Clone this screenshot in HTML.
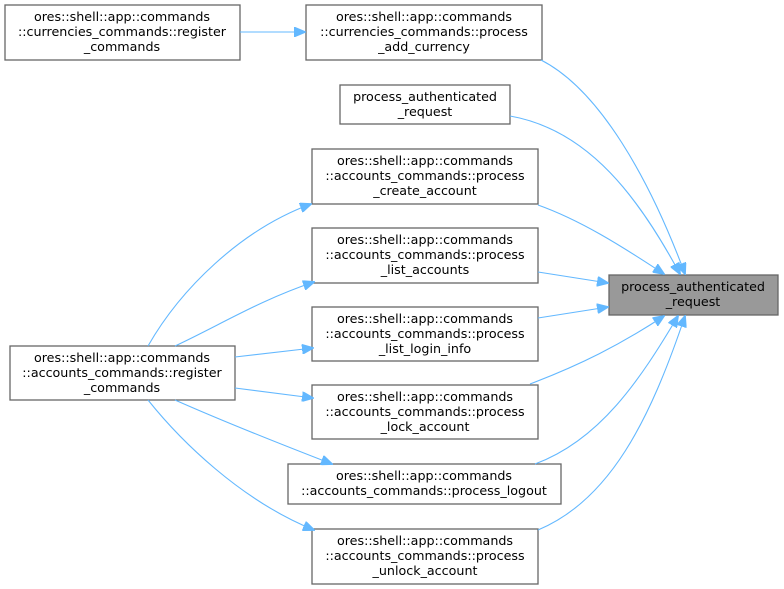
<!DOCTYPE html>
<html><head><meta charset="utf-8"><style>
html,body{margin:0;padding:0;background:#fff;}
svg{display:block;}
text{font-family:"DejaVu Sans","Liberation Sans",sans-serif;font-size:12.7px;fill:#000;}
.n{fill:#fff;stroke:#666;stroke-width:1.3;}
.e{fill:none;stroke:#63b8ff;stroke-width:1.1;}
</style></head><body>
<svg width="784" height="589" viewBox="0 0 784 589" xmlns="http://www.w3.org/2000/svg">
<defs><marker id="a" markerWidth="12" markerHeight="10" refX="11" refY="5" orient="auto" markerUnits="userSpaceOnUse"><path d="M0,0 L12,5 L0,10 z" fill="#63b8ff" stroke="#63b8ff"/></marker></defs>
<g text-anchor="middle">
<rect class="n" x="5" y="5" width="235" height="55"/>
<text x="122" y="21">ores::shell::app::commands</text><text x="122" y="36">::currencies_commands::register</text><text x="122" y="51">_commands</text>
<rect class="n" x="306" y="5" width="236" height="55"/>
<text x="424" y="21">ores::shell::app::commands</text><text x="424" y="36">::currencies_commands::process</text><text x="424" y="51">_add_currency</text>
<rect class="n" x="340" y="85" width="170" height="39"/>
<text x="425" y="101">process_authenticated</text><text x="425" y="116">_request</text>
<rect class="n" x="312" y="149" width="226" height="55"/>
<text x="425" y="165">ores::shell::app::commands</text><text x="425" y="180">::accounts_commands::process</text><text x="425" y="195">_create_account</text>
<rect class="n" x="312" y="228" width="226" height="55"/>
<text x="425" y="244">ores::shell::app::commands</text><text x="425" y="259">::accounts_commands::process</text><text x="425" y="274">_list_accounts</text>
<rect class="n" x="312" y="307" width="226" height="54"/>
<text x="425" y="323">ores::shell::app::commands</text><text x="425" y="338">::accounts_commands::process</text><text x="425" y="353">_list_login_info</text>
<rect class="n" x="312" y="385" width="226" height="54"/>
<text x="425" y="401">ores::shell::app::commands</text><text x="425" y="416">::accounts_commands::process</text><text x="425" y="431">_lock_account</text>
<rect class="n" x="288" y="464" width="273" height="40"/>
<text x="424" y="480">ores::shell::app::commands</text><text x="424" y="495">::accounts_commands::process_logout</text>
<rect class="n" x="312" y="529" width="226" height="55"/>
<text x="425" y="545">ores::shell::app::commands</text><text x="425" y="560">::accounts_commands::process</text><text x="425" y="575">_unlock_account</text>
<rect x="609" y="275" width="169" height="40" fill="#999" stroke="#666" stroke-width="1.3"/>
<text x="693" y="291">process_authenticated</text><text x="693" y="306">_request</text>
<rect class="n" x="10" y="346" width="225" height="54"/>
<text x="122" y="362">ores::shell::app::commands</text><text x="122" y="377">::accounts_commands::register</text><text x="122" y="392">_commands</text>
</g>
<g class="e">
<path class="e" d="M240,32 L305,32" marker-end="url(#a)"/>
<path class="e" d="M541,60 C600,90 650,180 685,274" marker-end="url(#a)"/>
<path class="e" d="M510,116 C590,130 640,200 680,274" marker-end="url(#a)"/>
<path class="e" d="M538,205 C580,220 620,245 664,274" marker-end="url(#a)"/>
<path class="e" d="M538,272 L608,283" marker-end="url(#a)"/>
<path class="e" d="M538,318 L608,307" marker-end="url(#a)"/>
<path class="e" d="M530,384 C580,365 620,345 664,316" marker-end="url(#a)"/>
<path class="e" d="M535,464 C600,440 640,380 678,316" marker-end="url(#a)"/>
<path class="e" d="M538,530 C610,500 650,420 685,316" marker-end="url(#a)"/>
<path class="e" d="M148,346 C180,290 240,230 311,204" marker-end="url(#a)"/>
<path class="e" d="M175,346 C220,325 260,300 314,282" marker-end="url(#a)"/>
<path class="e" d="M235,357 L313,348" marker-end="url(#a)"/>
<path class="e" d="M235,388 L313,398" marker-end="url(#a)"/>
<path class="e" d="M175,400 C220,420 270,440 332,464" marker-end="url(#a)"/>
<path class="e" d="M148,400 C180,440 240,500 314,530" marker-end="url(#a)"/>
</g>
</svg>
</body></html>
